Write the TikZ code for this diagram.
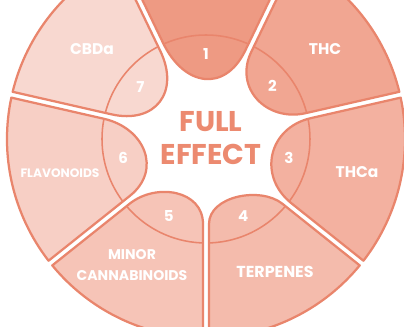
\documentclass[tikz,border=0pt]{standalone}
\usepackage{fontspec}
\setmainfont{Poppins}
\usetikzlibrary{calc}
\definecolor{RingLine}{HTML}{E9856C}
\definecolor{EffectText}{HTML}{EC8A70}
\definecolor{SegOne}{HTML}{EE9A83}
\definecolor{SegTwo}{HTML}{F1A692}
\definecolor{SegThree}{HTML}{F3B1A0}
\definecolor{SegFour}{HTML}{F4BBAC}
\definecolor{SegFive}{HTML}{F6C4B7}
\definecolor{SegSix}{HTML}{F7CFC5}
\definecolor{SegSeven}{HTML}{F8D8D0}

% one ring segment: #1 centre angle, #2 fill, #3/#4 end radius of ccw/cw side, #5 looseness
\newcommand\ringsegment[5]{%
  \pgfmathsetmacro\angA{#1+25.714}%
  \pgfmathsetmacro\angB{#1-25.714}%
  \def\segpath{($(\angA:#3)+(\angA-90:3)$) -- ($(\angA:199)+(\angA-90:3)$)
    arc[start angle=\angA-0.86, end angle=\angB+0.86, radius=199]
    -- ($(\angB:#4)+(\angB+90:3)$)
    to[out=\angB+180, in=\angA+180, looseness=#5] ($(\angA:#3)+(\angA-90:3)$) -- cycle}%
  \fill[#2] \segpath;
  \begin{scope}
    \clip \segpath;
    \draw[midline] (0,0) circle[radius=104];
  \end{scope}
  \draw[segline] \segpath;
}

\begin{document}
\begin{tikzpicture}[x=0.025cm, y=0.025cm,
    segline/.style={draw=RingLine, line width=1.6pt, line join=round},
    midline/.style={draw=RingLine, line width=1.1pt},
    seglabel/.style={text=white, align=center, inner sep=0pt, font=\bfseries\fontsize{11}{12.5}\selectfont},
    segnum/.style={text=white, inner sep=0pt, font=\bfseries\fontsize{10.7}{12}\selectfont}]
  \useasboundingbox (-206,-188) rectangle (198,139);
  \fill[white] (-206,-188) rectangle (198,139);
  \clip (-206,-188) rectangle (198,139);

  % Segments
  \ringsegment{90}{SegOne}{105}{97}{1.48}
  \ringsegment{38.571}{SegTwo}{98}{103}{1.25}
  \ringsegment{-12.857}{SegThree}{107}{107}{1.28}
  \ringsegment{-64.286}{SegFour}{100}{85}{0.94}
  \ringsegment{-115.714}{SegFive}{85}{100}{1.14}
  \ringsegment{-167.143}{SegSix}{95}{104}{1.31}
  \ringsegment{141.429}{SegSeven}{98}{99}{1.45}

  % Numbers
  \node[segnum] (num1) at (90:85) {1};
  \node[segnum] (num2) at (38.571:85) {2};
  \node[segnum] (num3) at (-12.857:85) {3};
  \node[segnum] (num4) at (-64.286:86) {4};
  \node[segnum] (num5) at (-115.714:86) {5};
  \node[segnum] (num6) at (-167.143:85) {6};
  \node[segnum] (num7) at (141.429:84) {7};

  % Labels
  \node[seglabel] (thc) at (119,90) {THC};
  \node[seglabel] (thca) at (151,-33) {THCa};
  \node[seglabel, font=\bfseries\fontsize{11.3}{12.5}\selectfont] (terpenes) at (69,-133) {TERPENES};
  \node[seglabel, font=\bfseries\fontsize{10}{15}\selectfont] (minor) at (-74,-126) {MINOR\\CANNABINOIDS};
  \node[seglabel, font=\bfseries\fontsize{8.7}{10}\selectfont] (flavonoids) at (-146,-34) {FLAVONOIDS};
  \node[seglabel] (cbda) at (-114,90) {CBDa};

  \node[text=EffectText, align=center, inner sep=0pt, font=\bfseries\fontsize{20.3}{23.5}\selectfont] (effect) at (5,0.5) {FULL\\EFFECT};
\end{tikzpicture}
\end{document}
